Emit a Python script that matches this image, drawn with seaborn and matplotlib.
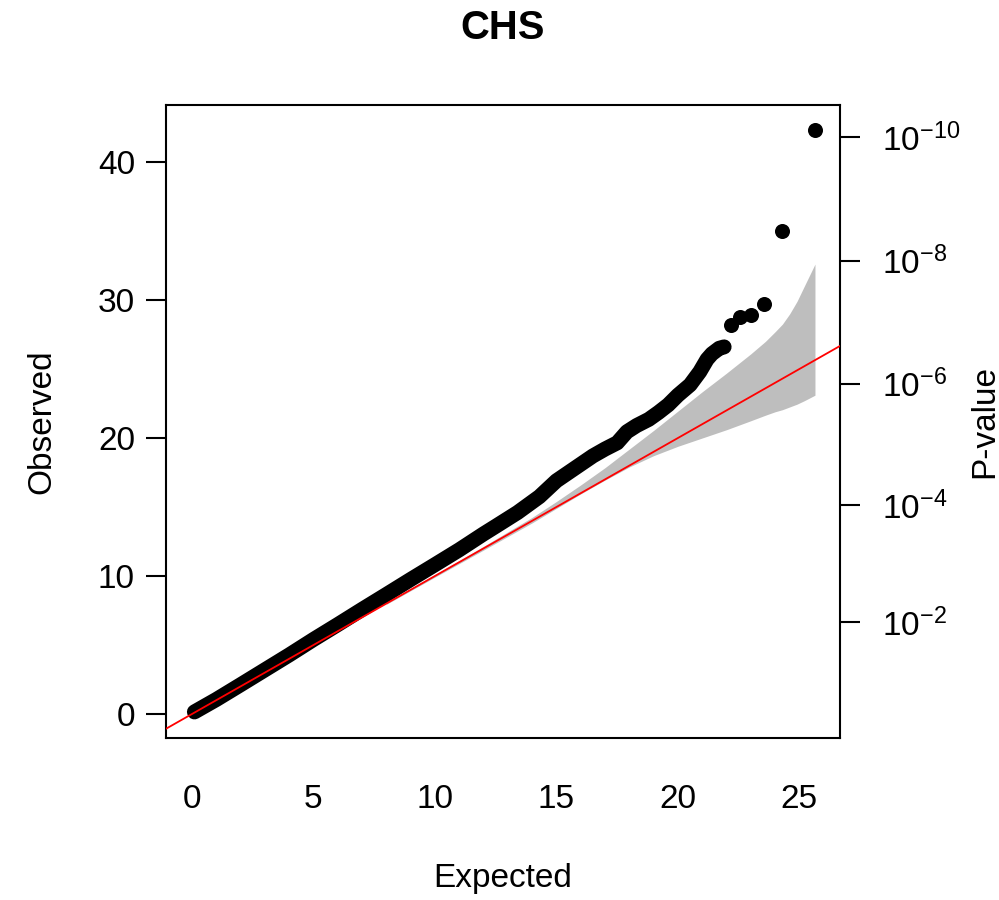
import matplotlib
matplotlib.use("Agg")
import matplotlib.pyplot as plt
import seaborn as sns

# ---- data ----
body_exp = [0.1, 1, 2, 3, 4, 5, 6, 7, 8, 9, 10, 11, 12, 12.5, 13.4, 14.3, 15.0, 15.5,
            16.0, 16.5, 17.0, 17.5, 17.9, 18.3, 18.8, 19.2, 19.6, 20.0, 20.5, 20.9,
            21.2, 21.4, 21.7, 21.9]
body_obs = [0.15, 1.05, 2.12, 3.2, 4.28, 5.4, 6.48, 7.58, 8.66, 9.75, 10.82, 11.9, 13.05,
            13.6, 14.6, 15.75, 16.9, 17.5, 18.1, 18.7, 19.2, 19.65, 20.45, 20.9, 21.35,
            21.85, 22.4, 23.1, 23.85, 24.8, 25.7, 26.1, 26.5, 26.6]
tail_exp = [22.2, 22.55, 23.0, 23.55, 24.3, 25.64]
tail_obs = [28.2, 28.8, 28.9, 29.7, 35.0, 42.3]

ci_x = [8, 10, 12, 14, 15, 16, 17, 18, 19, 20, 21, 22, 23, 23.6, 24.0, 24.3, 24.6,
        24.9, 25.2, 25.64]
ci_hi = [8.06, 10.1, 12.15, 14.25, 15.4, 16.6, 17.85, 19.2, 20.55, 21.95, 23.35, 24.7,
         26.1, 27.0, 27.7, 28.25, 29.0, 29.9, 31.0, 32.6]
ci_lo = [7.95, 9.92, 11.88, 13.85, 14.9, 15.95, 16.95, 17.9, 18.72, 19.4, 20.0, 20.6,
         21.25, 21.65, 21.9, 22.05, 22.25, 22.45, 22.7, 23.1]

x_ticks = [0, 5, 10, 15, 20, 25]
y_ticks = [0, 10, 20, 30, 40]
p_tick_pos = [6.63, 15.14, 23.93, 32.84, 41.82]
p_tick_exp = [-2, -4, -6, -8, -10]

title = "CHS"
xlabel = "Expected"
ylabel = "Observed"
ylabel_right = "P-value"

# ---- style ----
sns.set_style("white")
plt.rcParams["font.family"] = ["Liberation Sans", "DejaVu Sans"]
plt.rcParams["mathtext.fontset"] = "custom"
plt.rcParams["mathtext.rm"] = "Liberation Sans"
plt.rcParams["mathtext.it"] = "Liberation Sans"
plt.rcParams["text.color"] = "black"
plt.rcParams["axes.labelcolor"] = "black"
plt.rcParams["xtick.color"] = "black"
plt.rcParams["ytick.color"] = "black"

FS = 24
fig = plt.figure(figsize=(9.99, 9.0), dpi=100)
L, R, B, T = 166 / 999, 840 / 999, 1 - 738 / 900, 1 - 105 / 900
ax = fig.add_axes([L, B, R - L, T - B])

ax.fill_between(ci_x, ci_lo, ci_hi, color="#BEBEBE", linewidth=0, zorder=1)
sns.lineplot(x=body_exp, y=body_obs, ax=ax, color="black", linewidth=10.8,
             sort=False, estimator=None, solid_capstyle="round",
             solid_joinstyle="round", zorder=3)
sns.scatterplot(x=tail_exp, y=tail_obs, ax=ax, color="black", s=117,
                linewidth=0, zorder=3)
ax.axline((0, 0), slope=1, color="red", lw=1.3, zorder=5)

ax.set_xlim(-1.07, 26.67)
ax.set_ylim(-1.74, 44.13)
ax.set_xticks(x_ticks)
ax.set_yticks(y_ticks)
ax.set_xticklabels([str(v) for v in x_ticks])
ax.set_yticklabels([str(v) for v in y_ticks])
ax.tick_params(axis="both", direction="out", length=14.4, width=1.5,
               labelsize=FS, colors="black")
ax.tick_params(axis="x", pad=18.5)
ax.tick_params(axis="y", pad=8)
for s in ax.spines.values():
    s.set_visible(True)
    s.set_linewidth(1.5)
    s.set_color("black")
ax.set_xlabel("")
ax.set_ylabel("")

ax2 = ax.twinx()
ax2.set_ylim(ax.get_ylim())
ax2.set_yticks(p_tick_pos)
ax2.set_yticklabels([r"$\mathregular{10^{%d}}$" % e for e in p_tick_exp])
ax2.tick_params(axis="y", direction="out", length=14.4, width=1.5,
                labelsize=FS, pad=15.5, colors="black")
for s in ax2.spines.values():
    s.set_visible(False)
ax2.grid(False)

fig.text(503 / 999, 1 - 28 / 900, title, ha="center", va="center",
         fontsize=28.8, fontweight="bold", color="black")
fig.text(503 / 999, 1 - 879 / 900, xlabel, ha="center", va="center",
         fontsize=FS, color="black")
fig.text(42 / 999, 1 - 421.5 / 900, ylabel, ha="center", va="center",
         fontsize=FS, rotation=90, color="black")
fig.text(985 / 999, 1 - 421.5 / 900, ylabel_right, ha="center", va="center",
         fontsize=FS, rotation=90, color="black")

fig.savefig("out.png", dpi=100, facecolor="white")
